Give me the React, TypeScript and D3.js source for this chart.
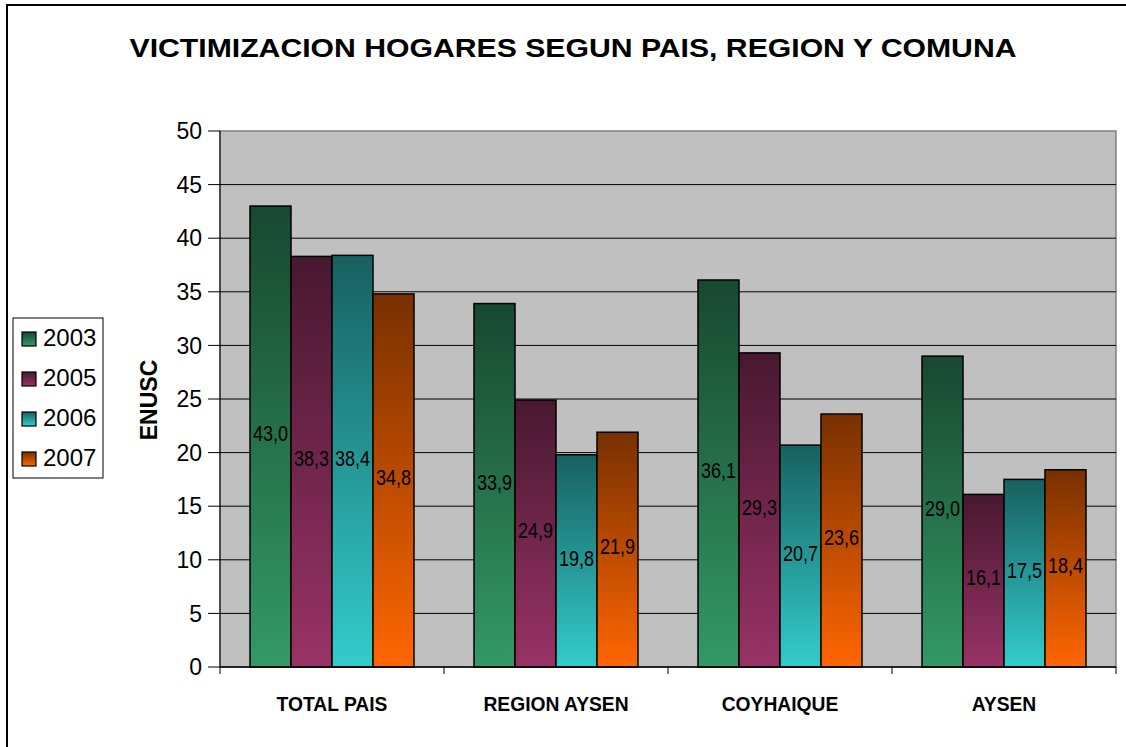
import React from "react";
import * as d3 from "d3";

const categories = ["TOTAL PAIS", "REGION AYSEN", "COYHAIQUE", "AYSEN"];
const years = ["2003", "2005", "2006", "2007"];
const y2003 = [43.0, 33.9, 36.1, 29.0];
const y2005 = [38.3, 24.9, 29.3, 16.1];
const y2006 = [38.4, 19.8, 20.7, 17.5];
const y2007 = [34.8, 21.9, 23.6, 18.4];
const yTicks = [0, 5, 10, 15, 20, 25, 30, 35, 40, 45, 50];

const seriesValues = [y2003, y2005, y2006, y2007];
const baseColors = ["#339966", "#993366", "#33cccc", "#ff6600"];

const W = 1126;
const H = 747;
const plot = { left: 220, right: 1116, top: 131, bottom: 667 };
const fmt = (v: number) => d3.format(".1f")(v).replace(".", ",");
const FONT = "'Liberation Sans', Arial, sans-serif";

// excel "one colour, dark" gradient: darker shade at top
function darken(c: string) {
  const rgb = d3.rgb(c);
  return d3.rgb(rgb.r * 0.47, rgb.g * 0.47, rgb.b * 0.47).formatHex();
}

export default function App() {
  const x0 = d3.scaleBand().domain(categories).range([plot.left, plot.right]);
  const x1 = d3.scaleBand().domain(years).range([30, 194]);
  const y = d3.scaleLinear().domain([0, 50]).range([plot.bottom, plot.top]);

  return (
    <svg
      width={W}
      height={H}
      style={{ position: "absolute", left: 0, top: 0, background: "#fff" }}
      fontFamily={FONT}
    >
      <defs>
        {years.map((yr, i) => (
          <linearGradient key={yr} id={"g" + yr} x1="0" y1="0" x2="0" y2="1">
            <stop offset="0%" stopColor={darken(baseColors[i])} />
            <stop offset="100%" stopColor={baseColors[i]} />
          </linearGradient>
        ))}
      </defs>

      {/* outer frame */}
      <rect x={7} y={5} width={W + 10} height={H + 10} fill="#fff" stroke="#000" strokeWidth={2} />

      <text x={573} y={57} textAnchor="middle" fontSize={26} fontWeight="bold"
        textLength={887} lengthAdjust="spacingAndGlyphs">
        VICTIMIZACION HOGARES SEGUN PAIS, REGION Y COMUNA
      </text>

      {/* plot area */}
      <rect x={plot.left} y={plot.top} width={plot.right - plot.left} height={plot.bottom - plot.top}
        fill="#c0c0c0" stroke="#808080" strokeWidth={1.5} />
      {yTicks.filter((t) => t > 0 && t < 50).map((t) => (
        <line key={t} x1={plot.left} x2={plot.right} y1={y(t)} y2={y(t)} stroke="#000" strokeWidth={1} />
      ))}

      {/* bars */}
      {categories.map((cat, ci) => (
        <g key={cat} transform={`translate(${x0(cat)},0)`}>
          {years.map((yr, si) => {
            const v = seriesValues[si][ci];
            const bx = x1(yr)!;
            const bw = x1.bandwidth();
            return (
              <rect key={yr} x={bx} y={y(v)} width={bw} height={y(0) - y(v)}
                fill={`url(#g${yr})`} stroke="#000" strokeWidth={1.5} />
            );
          })}
          {years.map((yr, si) => {
            const v = seriesValues[si][ci];
            const cx = x1(yr)! + x1.bandwidth() / 2;
            const cy = (y(v) + y(0)) / 2 - 3;
            return (
              <text key={"l" + yr} transform={`translate(${cx},${cy}) scale(0.82,1)`}
                textAnchor="middle" dominantBaseline="central" fontSize={22} fill="#000">
                {fmt(v)}
              </text>
            );
          })}
        </g>
      ))}

      {/* axes */}
      <line x1={plot.left} x2={plot.left} y1={plot.top} y2={plot.bottom} stroke="#000" strokeWidth={1} />
      <line x1={plot.left} x2={plot.right} y1={plot.bottom} y2={plot.bottom} stroke="#000" strokeWidth={1.5} />
      {yTicks.map((t) => (
        <g key={t}>
          <line x1={208} x2={plot.left} y1={y(t)} y2={y(t)} stroke="#000" />
          <text x={202} y={y(t)} dy="0.36em" textAnchor="end" fontSize={23}>{t}</text>
        </g>
      ))}
      {[...categories.map((c) => x0(c)!), plot.right].map((xx, i) => (
        <line key={i} x1={xx} x2={xx} y1={plot.bottom} y2={plot.bottom + 7} stroke="#000" />
      ))}
      {categories.map((cat) => (
        <text key={cat} transform={`translate(${x0(cat)! + x0.bandwidth() / 2},711) scale(0.94,1)`}
          textAnchor="middle" fontSize={20.5} fontWeight="bold">
          {cat}
        </text>
      ))}

      <text transform="translate(157,400) rotate(-90)" textAnchor="middle" fontSize={23} fontWeight="bold">
        ENUSC
      </text>

      {/* legend */}
      <rect x={13} y={318} width={90} height={160} fill="#fff" stroke="#000" strokeWidth={1} />
      {years.map((yr, i) => (
        <g key={yr} transform={`translate(0,${339 + i * 40})`}>
          <rect x={22} y={-7} width={14} height={14} fill={`url(#g${yr})`} stroke="#000" strokeWidth={1.2} />
          <text x={43} y={7} fontSize={24}>{yr}</text>
        </g>
      ))}
    </svg>
  );
}
